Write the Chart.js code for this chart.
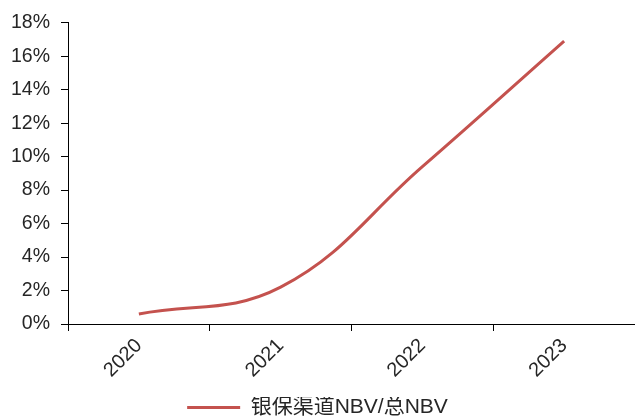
<!DOCTYPE html>
<html>
<head>
<meta charset="utf-8">
<script src="https://cdn.jsdelivr.net/npm/chart.js@4/dist/chart.umd.min.js"></script>
<style>
  html, body { margin: 0; padding: 0; background: #fff; }
  #wrap { width: 635px; height: 417px; }
</style>
</head>
<body>
<div id="wrap"><canvas id="nbvChart"></canvas></div>
<script>
const years = ["2020", "2021", "2022", "2023"];
const bancaShare = [0.6, 2.2, 9.4, 16.9]; // 银保渠道NBV/总NBV, %
const seriesName = "银保渠道NBV/总NBV";

const FONT = "'Liberation Sans', Arial, 'Noto Sans CJK SC', sans-serif";
const TEXT = "#262626";

const ctx = document.getElementById("nbvChart").getContext("2d");

new Chart(ctx, {
  type: "line",
  data: {
    labels: years,
    datasets: [
      {
        label: seriesName,
        data: bancaShare,
        borderColor: "#c4524e",
        backgroundColor: "#c4524e",
        borderWidth: 3,
        tension: 0.4,
        pointRadius: 0,
        fill: false,
      },
    ],
  },
  options: {
    responsive: true,
    maintainAspectRatio: false,
    animation: false,
    // legend sits right against the bottom edge
    layout: { padding: { top: 18, right: 0, left: 0, bottom: -11 } },
    scales: {
      x: {
        offset: true,
        grid: {
          offset: true,
          drawOnChartArea: false,
          color: "#000",
          tickLength: 7,
        },
        border: { color: "#000", width: 1 },
        ticks: {
          color: TEXT,
          font: { family: FONT, size: 20 },
          maxRotation: 45,
          minRotation: 45,
          padding: 3,
        },
        afterFit: (scale) => { scale.height = 73; },
      },
      y: {
        min: 0,
        max: 18,
        grid: {
          drawOnChartArea: false,
          color: "#000",
          tickLength: 7,
        },
        border: { color: "#000", width: 1 },
        ticks: {
          stepSize: 2,
          color: TEXT,
          font: { family: FONT, size: 19.5 },
          padding: 11,
          callback: (v) => v + "%",
        },
        afterFit: (scale) => { scale.width = 68; },
      },
    },
    plugins: {
      legend: {
        position: "bottom",
        labels: {
          usePointStyle: true,
          pointStyle: "line",
          pointStyleWidth: 53,
          color: TEXT,
          font: { family: FONT, size: 21 },
          padding: 0,
        },
      },
      tooltip: { enabled: false },
    },
  },
});
</script>
</body>
</html>
